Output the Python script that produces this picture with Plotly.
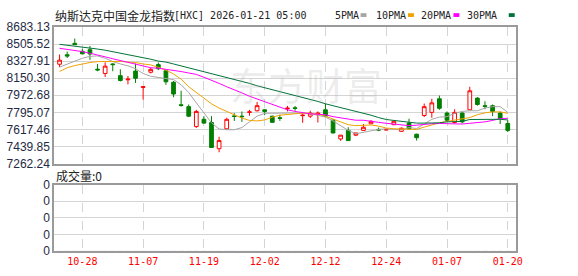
import plotly.graph_objects as go

W, H = 578, 276

dates = ["10-23","10-24","10-27","10-28","10-29","10-30","10-31","11-03","11-04","11-05",
         "11-06","11-07","11-10","11-11","11-12","11-13","11-14","11-17","11-18","11-19",
         "11-20","11-21","11-24","11-25","11-26","11-28","12-01","12-02","12-03","12-04",
         "12-05","12-08","12-09","12-10","12-11","12-12","12-15","12-16","12-17","12-18",
         "12-19","12-22","12-23","12-24","12-26","12-29","12-30","12-31","01-02","01-05",
         "01-06","01-07","01-08","01-09","01-12","01-13","01-14","01-15","01-16","01-20"]

tick_labels = ["10-28","11-07","11-19","12-02","12-12","12-24","01-07","01-20"]

open_ = [8295.3, 8394.0, 8512.5, 8429.6, 8446.4, 8244.0, 8199.6, 8298.3, 8176.9, 8133.6,
         8224.3, 8054.6, 8212.4, 8291.4, 8227.3, 8107.9, 7874.0, 7854.3, 7647.1, 7723.1,
         7689.5, 7417.2, 7624.4, 7758.5, 7755.6, 7795.0, 7811.8, 7821.7, 7755.6, 7738.9,
         7832.6, 7842.5, 7760.5, 7755.6, 7770.5, 7821.7, 7713.2, 7518.8, 7607.6, 7558.2,
         7607.6, 7676.7, 7617.5, 7612.6, 7666.8, 7598.0, 7683.6, 7568.1, 7762.5, 7795.0,
         7936.2, 7788.1, 7689.5, 7788.1, 7821.7, 7943.1, 7864.2, 7864.2, 7788.1, 7679.6]

high = [8397.0, 8426.6, 8561.7, 8456.2, 8485.8, 8298.3, 8315.1, 8305.2, 8242.1, 8173.0,
        8303.3, 8068.4, 8258.8, 8313.1, 8234.2, 8120.7, 8019.1, 7877.0, 7821.7, 7755.6,
        7755.6, 7541.5, 7738.9, 7788.1, 7804.9, 7821.7, 7903.6, 7827.7, 7760.5, 7770.5,
        7862.2, 7862.2, 7788.1, 7811.8, 7804.9, 7883.9, 7726.0, 7558.2, 7640.2, 7580.9,
        7673.7, 7713.2, 7637.2, 7630.3, 7709.4, 7637.2, 7729.0, 7573.1, 7886.8, 7936.2,
        7969.7, 7804.9, 7827.7, 7795.0, 8061.5, 7953.0, 7910.5, 7877.0, 7804.9, 7713.2]

low = [8265.7, 8360.5, 8495.7, 8397.0, 8340.8, 8222.3, 8163.1, 8222.3, 8116.7, 8086.2,
       8101.0, 7928.3, 8199.6, 8234.2, 8081.3, 7953.0, 7854.3, 7745.7, 7634.2, 7676.7,
       7424.2, 7380.7, 7622.4, 7706.3, 7696.4, 7760.5, 7804.9, 7765.5, 7689.5, 7706.3,
       7804.9, 7811.8, 7686.6, 7735.9, 7689.5, 7755.6, 7577.9, 7499.0, 7499.0, 7548.4,
       7602.7, 7673.7, 7600.7, 7607.6, 7663.9, 7595.1, 7617.5, 7502.0, 7745.7, 7738.9,
       7821.7, 7706.3, 7679.6, 7679.6, 7819.8, 7864.2, 7827.7, 7755.6, 7673.7, 7590.8]

close = [8337.8, 8380.2, 8498.7, 8403.9, 8401.9, 8236.2, 8275.6, 8291.4, 8126.6, 8140.5,
         8149.6, 8061.5, 8242.1, 8249.0, 8112.8, 7985.5, 7867.1, 7755.6, 7804.9, 7683.6,
         7430.1, 7502.0, 7723.1, 7752.6, 7750.6, 7799.9, 7864.6, 7804.9, 7691.5, 7733.0,
         7838.6, 7835.6, 7765.5, 7788.1, 7788.1, 7755.6, 7580.9, 7558.2, 7502.0, 7580.9,
         7640.2, 7702.3, 7611.6, 7615.5, 7702.3, 7630.3, 7624.4, 7531.6, 7854.3, 7893.8,
         7837.5, 7713.2, 7795.0, 7696.4, 8019.1, 7877.0, 7858.3, 7804.9, 7733.0, 7607.6]

ma5 = [8265.7, 8298.3, 8327.9, 8357.5, 8377.3, 8382.2, 8357.5, 8323.0, 8298.3, 8278.6,
       8249.0, 8199.6, 8170.0, 8160.2, 8150.3, 8135.5, 8081.3, 8002.3, 7893.8, 7795.0,
       7686.6, 7622.4, 7614.5, 7614.5, 7637.2, 7696.4, 7755.6, 7785.2, 7788.1, 7788.1,
       7788.1, 7788.1, 7788.1, 7780.3, 7765.5, 7745.7, 7706.3, 7657.0, 7607.6, 7573.1,
       7587.9, 7607.6, 7617.5, 7624.4, 7617.5, 7612.6, 7637.2, 7627.3, 7673.7, 7723.1,
       7745.7, 7750.6, 7785.2, 7804.9, 7811.8, 7811.8, 7839.5, 7854.3, 7854.3, 7795.0]

ma10 = [8219.4, 8258.9, 8281.5, 8298.3, 8313.1, 8323.0, 8325.0, 8325.0, 8325.0, 8318.0,
        8313.1, 8298.3, 8288.5, 8263.8, 8234.2, 8194.7, 8140.4, 8061.5, 8002.3, 7943.1,
        7883.9, 7839.5, 7804.9, 7775.3, 7735.9, 7711.2, 7706.3, 7716.1, 7745.7, 7765.5,
        7775.3, 7785.2, 7788.1, 7785.2, 7775.3, 7755.6, 7726.0, 7696.4, 7666.8, 7657.0,
        7661.9, 7663.9, 7652.0, 7632.3, 7624.4, 7622.4, 7614.5, 7617.5, 7642.2, 7666.8,
        7686.6, 7701.4, 7713.2, 7726.0, 7740.8, 7770.5, 7790.2, 7800.0, 7800.0, 7785.2]

ma20 = [8461.2, 8451.3, 8439.5, 8426.6, 8409.9, 8387.1, 8372.3, 8352.6, 8332.8, 8313.1,
        8293.4, 8273.6, 8258.9, 8253.9, 8244.0, 8229.2, 8219.4, 8204.6, 8189.8, 8160.2,
        8130.6, 8096.1, 8061.5, 8031.9, 7997.4, 7962.8, 7933.2, 7903.6, 7874.0, 7844.5,
        7821.7, 7804.9, 7790.1, 7780.3, 7775.3, 7770.4, 7750.6, 7735.9, 7721.1, 7713.2,
        7713.2, 7706.3, 7691.5, 7681.6, 7671.8, 7661.9, 7657.0, 7661.9, 7671.8, 7676.7,
        7679.6, 7676.7, 7679.6, 7673.7, 7681.6, 7686.6, 7696.4, 7711.2, 7730.9, 7733.0]

ma30 = [8502.6, 8493.7, 8485.8, 8475.9, 8466.1, 8453.2, 8441.4, 8426.6, 8411.8, 8397.0,
        8380.2, 8364.4, 8347.6, 8327.9, 8318.0, 8298.3, 8278.6, 8258.9, 8234.2, 8214.5,
        8194.7, 8175.0, 8155.3, 8135.5, 8115.8, 8096.1, 8071.4, 8051.7, 8027.0, 8007.3,
        7985.5, 7967.8, 7948.0, 7928.3, 7908.6, 7883.9, 7864.2, 7844.5, 7829.7, 7809.9,
        7790.2, 7765.5, 7740.8, 7721.1, 7711.2, 7701.4, 7691.5, 7683.6, 7683.6, 7683.6,
        7686.6, 7696.4, 7696.4, 7701.4, 7721.1, 7723.1, 7723.1, 7723.1, 7723.1, 7716.1]

volume = [0] * 60

y_ticks = [8683.13, 8505.52, 8327.91, 8150.30, 7972.68, 7795.07, 7617.46, 7439.85, 7262.24]
vol_ticks = [0, 0.25, 0.5, 0.75, 1.0]

ma_names = ["5PMA", "10PMA", "20PMA", "30PMA"]
ma_colors = ["#a6a6a6", "#f2a200", "#ff00ff", "#00733a"]

idx = list(range(len(dates)))
tickvals = [dates.index(t) for t in tick_labels]

fig = go.Figure()

fig.add_trace(go.Candlestick(
    x=idx, open=open_, high=high, low=low, close=close,
    increasing=dict(line=dict(color="#ff0000", width=1), fillcolor="#ffffff"),
    decreasing=dict(line=dict(color="#007f00", width=1), fillcolor="#007f00"),
    whiskerwidth=0, showlegend=False, hoverinfo="skip",
    xaxis="x", yaxis="y"))

for name, vals, col in zip(ma_names, [ma5, ma10, ma20, ma30], ma_colors):
    fig.add_trace(go.Scatter(x=idx, y=vals, mode="lines", name=name,
                             line=dict(color=col, width=1), showlegend=False,
                             hoverinfo="skip", xaxis="x", yaxis="y"))

fig.add_trace(go.Bar(x=idx, y=volume, marker_color="#007f00", showlegend=False,
                     hoverinfo="skip", xaxis="x2", yaxis="y2"))

x_dom = [55 / W, 522 / W]
xr = [-0.69, 60.04]
frame = "#9a9a9a"
grid = "#d4d4d4"

fig.update_layout(
    width=W, height=H, autosize=False,
    margin=dict(l=0, r=0, t=0, b=0),
    paper_bgcolor="white", plot_bgcolor="white",
    boxgap=0.3,
    xaxis=dict(domain=x_dom, range=xr, anchor="y", tickvals=tickvals,
               showticklabels=False, ticks="", showgrid=True, gridcolor=grid,
               griddash="dash", gridwidth=1, zeroline=False, showline=True,
               mirror=True, linecolor=frame, linewidth=2,
               rangeslider=dict(visible=False)),
    yaxis=dict(domain=[1 - 165 / H, 1 - 21 / H], range=[y_ticks[-1], y_ticks[0]],
               anchor="x", tickvals=y_ticks, ticktext=["%.2f" % v for v in y_ticks],
               ticks="", showgrid=True, gridcolor=grid, gridwidth=1, zeroline=False,
               showline=True, mirror=True, linecolor=frame, linewidth=2,
               tickfont=dict(family="Liberation Sans", size=12, color="#1f2a44")),
    xaxis2=dict(domain=x_dom, range=xr, anchor="y2", tickvals=tickvals,
                ticktext=tick_labels, ticks="", showgrid=True, gridcolor=grid,
                griddash="dash", gridwidth=1, zeroline=False, showline=True,
                mirror=True, linecolor=frame, linewidth=2,
                tickfont=dict(family="DejaVu Sans Mono", size=10, color="#ff0000")),
    yaxis2=dict(domain=[1 - 257 / H, 1 - 187 / H], range=[0, 1], anchor="x2",
                tickvals=vol_ticks, ticktext=["0"] * 5, ticks="", showgrid=True,
                gridcolor=grid, gridwidth=1, zeroline=False, showline=True,
                mirror=True, linecolor=frame, linewidth=2,
                tickfont=dict(family="Liberation Sans", size=12, color="#1f2a44")),
)

def px_x(p):
    return p / W

def px_y(p):
    return 1 - p / H

def note(xp, yp, text, family, size, color, xanchor="left"):
    return dict(x=px_x(xp), y=px_y(yp), xref="paper", yref="paper", text=text,
                showarrow=False, xanchor=xanchor, yanchor="middle",
                font=dict(family=family, size=size, color=color))

annotations = [
    note(310, 81, "东方财富", "Noto Sans CJK SC", 38, "rgba(170,170,170,0.22)", "center"),
    note(54, 9, "纳斯达克中国金龙指数", "Noto Sans CJK SC", 12, "#222"),
    note(174, 9, "[HXC] 2026-01-21 05:00", "DejaVu Sans Mono", 10, "#222"),
    note(55, 178, "成交量:0", "Noto Sans CJK SC", 12, "#222"),
]
legend_text_x = [337, 379, 424, 471]
legend_sq_x = [365, 413, 459, 515]
shapes = []
for name, col, tx, sx in zip(ma_names, ma_colors, legend_text_x, legend_sq_x):
    annotations.append(note(tx, 9, name, "DejaVu Sans Mono", 10, "#222"))
    shapes.append(dict(type="rect", xref="paper", yref="paper",
                       x0=px_x(sx), x1=px_x(sx + 6), y0=px_y(10.5), y1=px_y(6.5),
                       fillcolor=col, line=dict(width=0)))

fig.update_layout(annotations=annotations, shapes=shapes)

fig.write_html("out.html")
